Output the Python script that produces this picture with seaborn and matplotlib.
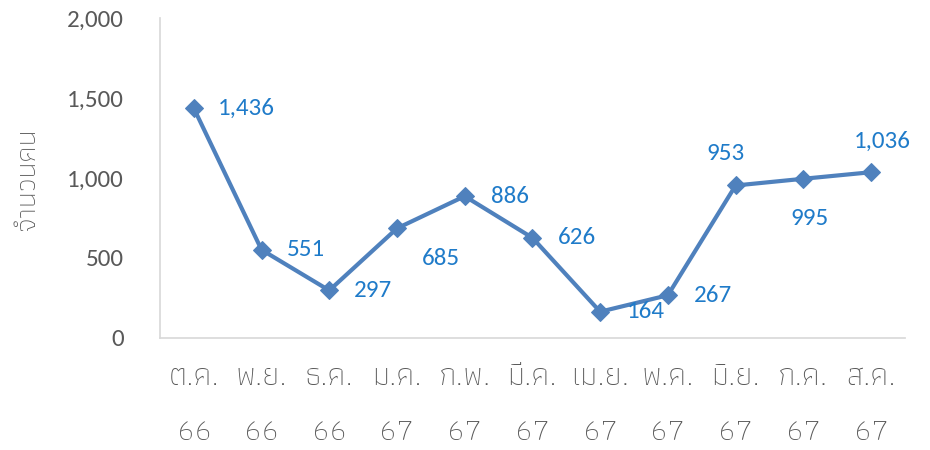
import matplotlib
matplotlib.use("Agg")
import matplotlib.pyplot as plt
import seaborn as sns
import pandas as pd

# monthly data (Thai fiscal year months)
months = ["ต.ค.\n66", "พ.ย.\n66", "ธ.ค.\n66", "ม.ค.\n67", "ก.พ.\n67", "มี.ค.\n67",
          "เม.ย.\n67", "พ.ค.\n67", "มิ.ย.\n67", "ก.ค.\n67", "ส.ค.\n67"]
people = [1436, 551, 297, 685, 886, 626, 164, 267, 953, 995, 1036]
yticks = [0, 500, 1000, 1500, 2000]

# label offsets in pixels (dx, dy), placed by hand like the original
label_offsets = [(53, 0), (44, 0), (44, 0), (44, -30), (45, 0), (45, 0),
                 (46, 0), (45, 0), (-10, 32), (6, -40), (11, 31)]

sns.set_theme(style="white")
plt.rcParams['font.family'] = ['Athiti', 'Loma', 'DejaVu Sans']
num_font = ['Carlito', 'Lato', 'DejaVu Sans']
thai_font = ['Athiti', 'Loma', 'DejaVu Sans']

df = pd.DataFrame({"month": months, "people": people})

fig = plt.figure(figsize=(9.3, 4.5), dpi=100)
ax = fig.add_axes([0.172, 0.249, 0.801, 0.711])

sns.lineplot(data=df, x="month", y="people", ax=ax, color="#4F81BD",
             linewidth=3, marker="D", markersize=9, markeredgecolor="#4F81BD",
             sort=False)

for i, (v, off) in enumerate(zip(people, label_offsets)):
    ax.annotate(f"{v:,}", (i, v), xytext=off, textcoords="offset pixels",
                ha="center", va="center", fontsize=18, color="#1F7BC9",
                family=num_font)

ax.set_xlim(-0.5, len(months) - 0.5)
ax.set_ylim(0, 2000)
ax.set_yticks(yticks)
ax.set_yticklabels([f"{t:,}" for t in yticks], family=num_font)
ax.tick_params(axis="y", labelsize=18, labelcolor="#595959", length=0, pad=26)
ax.tick_params(axis="x", labelsize=23, labelcolor="#595959", length=0, pad=19)
for lab in ax.get_xticklabels():
    lab.set_linespacing(2.3)
    lab.set_family(thai_font)
    lab.set_fontweight("light")

ax.set_xlabel("")
ax.set_ylabel("จำนวนคน", fontsize=21, color="#595959", family=thai_font,
              fontweight="light")
ax.yaxis.set_label_coords(-0.163, 0.5)

for side in ["top", "right"]:
    ax.spines[side].set_visible(False)
ax.spines["left"].set_color("#D9D9D9")
ax.spines["bottom"].set_color("#D9D9D9")

fig.savefig("out.png", dpi=100)
